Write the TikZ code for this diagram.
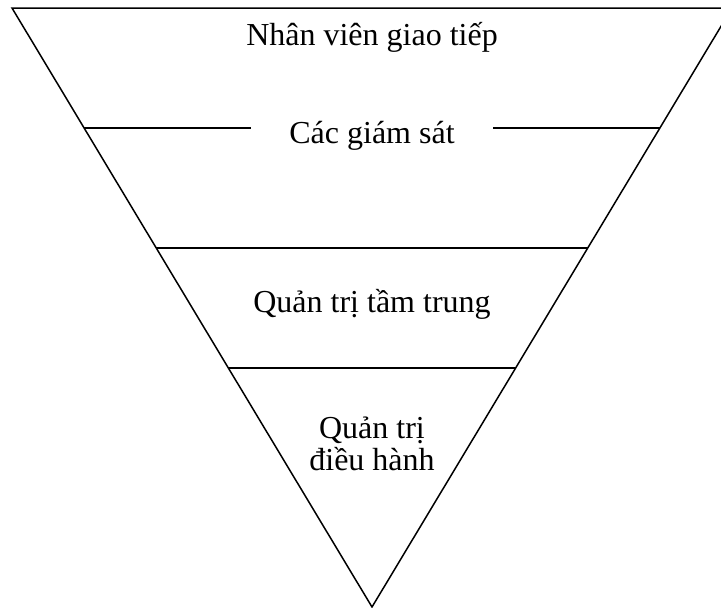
\documentclass[tikz,border=0pt]{standalone}
\usepackage{fontspec}
\setmainfont{Liberation Serif}
\usetikzlibrary{positioning, calc}

\begin{document}
\begin{tikzpicture}[x=1pt, y=-1pt, line width=1.5pt,
    tier/.style={anchor=base, font=\fontsize{32}{32}\selectfont, inner sep=0pt, align=center}]
\useasboundingbox (0,0) rectangle (721,608);
% khung tam giac nguoc
\coordinate (tl) at (12,8);
\coordinate (tr) at (732,8);
\coordinate (bot) at (372,607);
\draw (tl) -- (tr) -- (bot) -- cycle;
\foreach \f/\n in {0.2003/1, 0.4007/2, 0.601/3} {
    \coordinate (l\n) at ($(tl)!\f!(bot)$);
    \coordinate (r\n) at ($(tr)!\f!(bot)$);
}
% cac tang
\node[tier] (giaotiep) at (372,45) {Nhân viên giao tiếp};
\node[tier, inner xsep=38pt] (giamsat) at (372,143) {Các giám sát};
\node[tier] (tamtrung) at (372,312) {Quản trị tầm trung};
\node[tier] (dieuhanh) at (372,470) {Quản trị\\điều hành};
\draw (l1) -- (l1 -| giamsat.west);
\draw (giamsat.east |- r1) -- (r1);
\draw (l2) -- (r2);
\draw (l3) -- (r3);
\end{tikzpicture}
\end{document}
